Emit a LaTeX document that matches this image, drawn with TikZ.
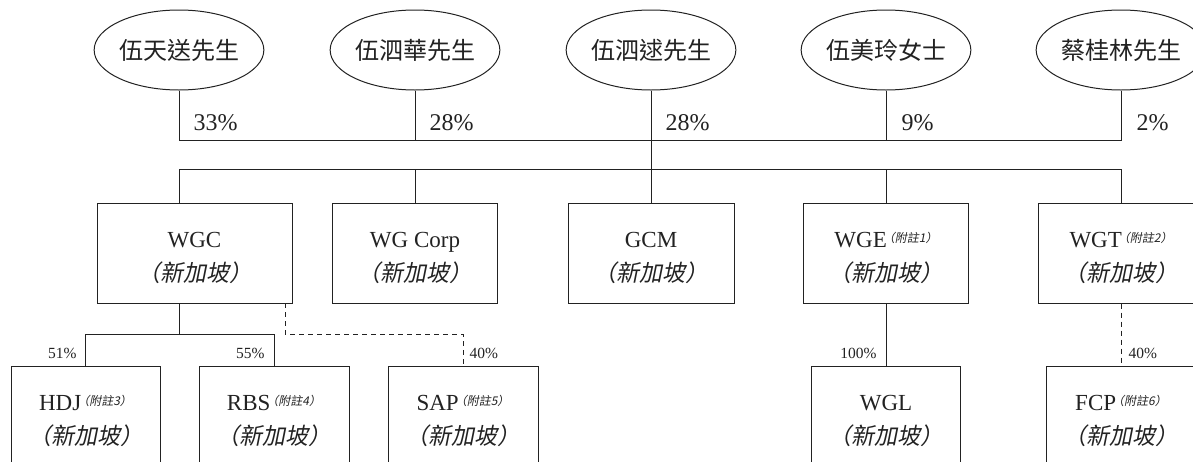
\documentclass[tikz,border=0pt]{standalone}
\usepackage{fontspec}
\setmainfont{Liberation Serif}
\newfontfamily\cjk{Noto Sans CJK TC}
\newfontfamily\cjkit{Noto Sans CJK TC}[FakeSlant=0.2]
\usetikzlibrary{shapes.geometric}
\definecolor{ink}{HTML}{222222}
\newcommand\fnote[1]{\hspace{-4pt}\raisebox{5pt}{\fontsize{12}{13}\selectfont\cjkit （附註\textit{#1}）}}
\newcommand\sgp{{\cjkit （新加坡）}}
\newcommand\tstrut{\rule{0pt}{25pt}}
\begin{document}
\begin{tikzpicture}[x=1pt,y=-1pt,line width=1pt,color=ink,
  person/.style={ellipse,draw,minimum width=149pt,minimum height=80pt,inner sep=0pt,font=\fontsize{24}{28}\selectfont\cjk},
  entity/.style={rectangle,draw,minimum height=100pt,inner sep=0pt,align=center,font=\fontsize{23}{34}\selectfont},
  pct/.style={font=\fontsize{24}{28}\selectfont,inner sep=0pt},
  spct/.style={font=\fontsize{15.5}{18}\selectfont,inner sep=0pt},
  link/.style={draw=ink,line width=1pt},
  dlink/.style={link,dash pattern=on 5pt off 4pt}]
\path[use as bounding box,clip] (0,0) rectangle (1193,461);
% persons
\node[person] (p1) at (179,50) {伍天送先生};
\node[person] (p2) at (415,50) {伍泗華先生};
\node[person] (p3) at (651,50) {伍泗逑先生};
\node[person] (p4) at (886,50) {伍美玲女士};
\node[person] (p5) at (1121,50) {蔡桂林先生};
% first-tier entities
\node[entity,minimum width=195pt] (e1) at (194.5,253) {\tstrut WGC\\\sgp};
\node[entity,minimum width=165pt] (e2) at (415,253) {\tstrut WG Corp\\\sgp};
\node[entity,minimum width=166pt] (e3) at (651,253) {\tstrut GCM\\\sgp};
\node[entity,minimum width=165pt] (e4) at (886,253) {\tstrut WGE\fnote{1}\\\sgp};
\node[entity,minimum width=165pt] (e5) at (1121,253) {\tstrut WGT\fnote{2}\\\sgp};
% second-tier entities
\node[entity,minimum width=149pt] (f1) at (85.5,416) {\tstrut HDJ\fnote{3}\\\sgp};
\node[entity,minimum width=150pt] (f2) at (274,416) {\tstrut RBS\fnote{4}\\\sgp};
\node[entity,minimum width=150pt] (f3) at (463,416) {\tstrut SAP\fnote{5}\\\sgp};
\node[entity,minimum width=149pt] (g1) at (886,416) {\tstrut WGL\\\sgp};
\node[entity,minimum width=150pt] (g2) at (1121,416) {\tstrut FCP\fnote{6}\\\sgp};
% junctions
\coordinate (b1) at (179,140);
\coordinate (b5) at (1121,140);
\coordinate (cm) at (651,169);
\coordinate (c1) at (179,169);
\coordinate (c5) at (1121,169);
\coordinate (d0) at (179,334);
\coordinate (s0) at (285,303);
% top connectors
\draw[link] (p1.south) -- (b1) -- (b5) -- (p5.south);
\draw[link] (p2.south) -- (p2.south |- b1);
\draw[link] (p3.south) -- (cm);
\draw[link] (p4.south) -- (p4.south |- b1);
\draw[link] (c1 |- e1.north) -- (c1) -- (c5) -- (e5.north);
\draw[link] (e2.north) -- (e2.north |- c1);
\draw[link] (e3.north) -- (e3.north |- c1);
\draw[link] (e4.north) -- (e4.north |- c1);
% lower connectors
\draw[link] (c1 |- e1.south) -- (d0);
\draw[link] (f1.north) -- (f1.north |- d0) -- (f2.north |- d0) -- (f2.north);
\draw[dlink] (s0) -- (s0 |- d0) -- (f3.north |- d0) -- (f3.north);
\draw[link] (e4.south) -- (g1.north);
\draw[dlink] (e5.south) -- (g2.north);
% percentages
\node[pct,anchor=west] (l1) at (193,123) {33\%};
\node[pct,anchor=west] (l2) at (429,123) {28\%};
\node[pct,anchor=west] (l3) at (665,123) {28\%};
\node[pct,anchor=west] (l4) at (901,123) {9\%};
\node[pct,anchor=west] (l5) at (1136,123) {2\%};
\node[spct,anchor=east] (m1) at (77,353) {51\%};
\node[spct,anchor=east] (m2) at (265,353) {55\%};
\node[spct,anchor=west] (m3) at (469,353) {40\%};
\node[spct,anchor=east] (m4) at (877,353) {100\%};
\node[spct,anchor=west] (m5) at (1128,353) {40\%};
\end{tikzpicture}
\end{document}
